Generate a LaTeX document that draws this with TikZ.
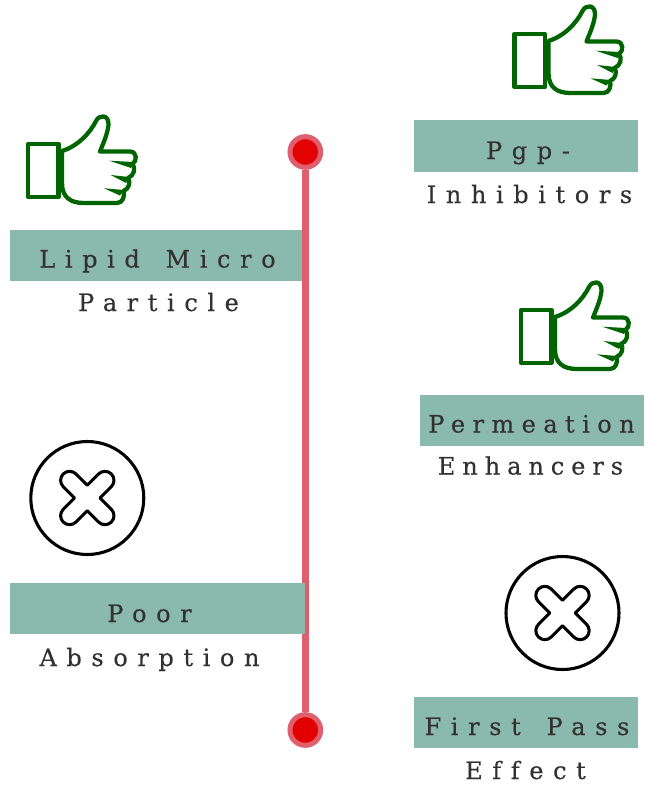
\documentclass[tikz,border=0pt]{standalone}
\usepackage{fontspec}
\setmainfont{DejaVu Serif}[LetterSpace=40,FakeBold=0.3,WordSpace=1.5,Ligatures=NoCommon]
\definecolor{bar}{HTML}{8ABAAD}
\definecolor{rail}{HTML}{DF5F6E}
\definecolor{dot}{HTML}{E30000}
\definecolor{thumb}{HTML}{006400}
\definecolor{ink}{HTML}{333030}
\tikzset{
  x=0.75pt,y=-0.75pt,
  barbox/.style={fill=bar,draw=none,inner sep=0pt,minimum height=38.5pt,minimum width=168pt},
  label/.style={anchor=base,text=ink,inner sep=0pt,font=\fontsize{18}{21}\selectfont},
  endcap/.style={circle,fill=dot,draw=rail,line width=3.75pt,minimum size=23pt,inner sep=0pt},
  thumbline/.style={draw=thumb,line width=3.2pt,line join=round,fill=white},
  crossline/.style={draw=black,line width=2.3pt,fill=white},
}
\newcommand{\thumbicon}[2]{%
\begin{scope}[shift={(#1,#2)}]
  \draw[thumbline] (28,144) rectangle (58.5,197);
  \draw[thumbline] (62,151) .. controls (78,146) and (90,133) .. (96,121)
    .. controls (99,114.5) and (109,114) .. (108.5,125)
    .. controls (107.5,134) and (103,144) .. (100,151.5)
    -- (130,151.5) .. controls (137,151.5) and (137.5,161) .. (132.5,164)
    .. controls (136,168) and (134,176) .. (128,178)
    .. controls (131,182) and (129,189) .. (123.5,191)
    .. controls (125,196) and (123,203) .. (117,203)
    -- (84,203) .. controls (70,203) and (62,197) .. (62,183) -- cycle;
  \fill[thumb] (109.3,160.7) -- (133,162) -- (131,168) -- cycle;
  \fill[thumb] (110.7,175) -- (129,177) -- (126,183) -- cycle;
  \fill[thumb] (104,188.3) -- (124,190) -- (120,195.5) -- cycle;
\end{scope}}
\newcommand{\crossicon}[2]{%
\begin{scope}[shift={(#1,#2)},x=0.75pt,y=0.75pt]
  \draw[crossline] (0,0) circle (56.5);
  \begin{scope}[rotate=45]
  \draw[crossline,line join=round] (9,9) -- (9,25) arc (0:180:9) -- (-9,9) -- (-25,9)
    arc (90:270:9) -- (-9,-9) -- (-9,-25) arc (180:360:9) -- (9,-9) -- (25,-9)
    arc (-90:90:9) -- cycle;
  \end{scope}
\end{scope}}
\begin{document}
\begin{tikzpicture}
\useasboundingbox (0,0) rectangle (659,807);
\fill[white] (0,0) rectangle (659,807);
\node[barbox,minimum width=221.25pt] (b1) at (157.5,255.7) {};
\node[barbox] (b3) at (526,146) {};
\node[barbox] (b4) at (532,420.5) {};
\node[barbox] (b5) at (526,722.5) {};
\node[endcap] (top) at (305.3,152) {};
\node[endcap] (bot) at (305.3,730) {};
\draw[rail,line width=4.8pt] (top) -- (bot);
\node[barbox,minimum width=221.25pt] (b2) at (157.5,608.5) {};
\thumbicon{0}{0}
\thumbicon{486.5}{-110}
\thumbicon{493}{166}
\crossicon{87.3}{498}
\crossicon{562.5}{613}
\node[label] (t1) at (157.5,267.5) {Lipid Micro};
\node[label] (t2) at (158.5,311) {Particle};
\node[label] (t3) at (528,159) {Pgp-};
\node[label] (t4) at (529.5,203) {Inhibitors};
\node[label] (t5) at (531.5,432.5) {\addfontfeature{LetterSpace=31}Permeation};
\node[label] (t6) at (530.5,474.5) {\addfontfeature{LetterSpace=29}Enhancers};
\node[label] (t7) at (149.5,622) {Poor};
\node[label] (t8) at (149.5,666) {Absorption};
\node[label] (t9) at (527,735) {First Pass};
\node[label] (t10) at (525.5,779) {Effect};
\end{tikzpicture}
\end{document}
